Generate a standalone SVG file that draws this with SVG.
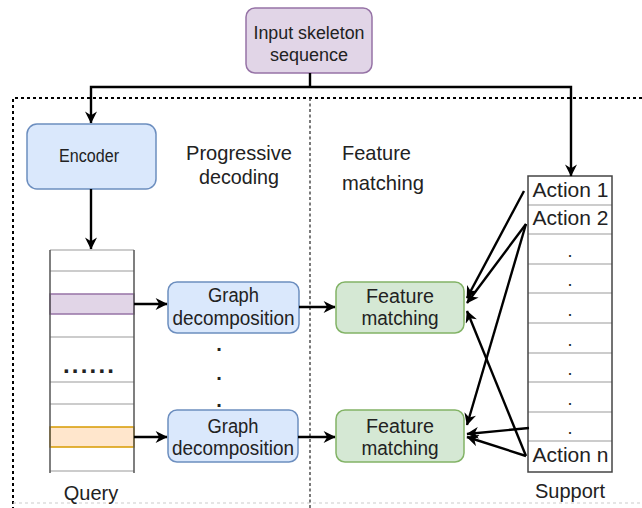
<svg xmlns="http://www.w3.org/2000/svg" width="642" height="508" viewBox="0 0 642 508">
  <style>
    text { font-family: "Liberation Sans", Arial, sans-serif; fill: #222; }
    .c { text-anchor: middle; }
    .blue { fill: #dae8fc; stroke: #6c8ebf; stroke-width: 1.5; }
    .green { fill: #d5e8d4; stroke: #82b366; stroke-width: 1.5; }
    .purple { fill: #e1d5e7; stroke: #9673a6; stroke-width: 1.5; }
    .orange { fill: #ffe6cc; stroke: #d79b00; stroke-width: 1.5; }
    .edge { fill: none; stroke: #000; stroke-width: 2.4; }
    .arrow { marker-end: url(#head); }
    .row { stroke: #999; stroke-width: 1.2; }
    .side { stroke: #555; stroke-width: 1.5; }
  </style>
  <defs>
    <marker id="head" viewBox="0 0 10 10" markerWidth="14" markerHeight="12" markerUnits="userSpaceOnUse" refX="9.5" refY="5" orient="auto">
      <path d="M0,0 L10,5 L0,10 L3,5 Z" fill="#000"/>
    </marker>
  </defs>

  <rect width="642" height="508" fill="#fff"/>

  <!-- frame and section divider -->
  <g id="frame">
    <path d="M642,98 H13 V508" fill="none" stroke="#000" stroke-width="2" stroke-dasharray="3 3"/>
    <path d="M13,503 H642" fill="none" stroke="#ccc" stroke-width="1.2" stroke-dasharray="3 3"/>
    <path d="M310,98 V508" fill="none" stroke="#333" stroke-width="1.3" stroke-dasharray="3 2.5"/>
  </g>

  <!-- section headings -->
  <g id="headings">
    <text class="c" x="239" y="160" font-size="21" textLength="106" lengthAdjust="spacingAndGlyphs">Progressive</text>
    <text class="c" x="239" y="184" font-size="21" textLength="80" lengthAdjust="spacingAndGlyphs">decoding</text>
    <text x="342" y="160" font-size="21" textLength="69" lengthAdjust="spacingAndGlyphs">Feature</text>
    <text x="342" y="190" font-size="21" textLength="82" lengthAdjust="spacingAndGlyphs">matching</text>
  </g>

  <g id="input">
    <rect class="purple" x="246" y="8" width="126" height="65" rx="9"/>
    <text class="c" x="309" y="39" font-size="18" textLength="111" lengthAdjust="spacingAndGlyphs">Input skeleton</text>
    <text class="c" x="309" y="61" font-size="18">sequence</text>
  </g>

  <g id="encoder">
    <rect class="blue" x="27" y="124" width="129" height="65" rx="10"/>
    <text class="c" x="89" y="162" font-size="18" textLength="60" lengthAdjust="spacingAndGlyphs">Encoder</text>
  </g>

  <!-- query feature column -->
  <g id="query">
    <rect class="purple" x="50" y="294" width="84" height="20"/>
    <rect class="orange" x="50" y="427" width="84" height="20"/>
    <path class="row" d="M50,250 H134 M50,271 H134 M50,337 H134 M50,382 H134 M50,404 H134 M50,471 H134"/>
    <path class="side" d="M50,250 V473 M134,250 V473"/>
    <text x="63" y="373" font-size="24" font-weight="bold" letter-spacing="2.2">......</text>
    <text class="c" x="91" y="500" font-size="20">Query</text>
  </g>

  <g id="graph1">
    <rect class="blue" x="168" y="282" width="131" height="51" rx="9"/>
    <text class="c" x="233.5" y="302" font-size="20" textLength="51" lengthAdjust="spacingAndGlyphs">Graph</text>
    <text class="c" x="233.5" y="325" font-size="20" textLength="122" lengthAdjust="spacingAndGlyphs">decomposition</text>
  </g>

  <g id="graph-dots">
    <text class="c" x="219" y="351" font-size="20" font-weight="bold">.</text>
    <text class="c" x="219" y="380" font-size="20" font-weight="bold">.</text>
    <text class="c" x="219" y="407" font-size="20" font-weight="bold">.</text>
  </g>

  <g id="graph2">
    <rect class="blue" x="168" y="410" width="130" height="52" rx="9"/>
    <text class="c" x="233" y="433" font-size="20" textLength="51" lengthAdjust="spacingAndGlyphs">Graph</text>
    <text class="c" x="233" y="455" font-size="20" textLength="122" lengthAdjust="spacingAndGlyphs">decomposition</text>
  </g>

  <g id="match1">
    <rect class="green" x="336" y="282" width="128" height="51" rx="9"/>
    <text class="c" x="400" y="303" font-size="20" textLength="68" lengthAdjust="spacingAndGlyphs">Feature</text>
    <text class="c" x="400" y="325" font-size="20" textLength="77" lengthAdjust="spacingAndGlyphs">matching</text>
  </g>

  <g id="match2">
    <rect class="green" x="336" y="410" width="128" height="52" rx="9"/>
    <text class="c" x="400" y="433" font-size="20" textLength="68" lengthAdjust="spacingAndGlyphs">Feature</text>
    <text class="c" x="400" y="455" font-size="20" textLength="77" lengthAdjust="spacingAndGlyphs">matching</text>
  </g>

  <!-- support set column -->
  <g id="support">
    <path class="row" d="M528,205 H612 M528,234 H612 M528,264 H612 M528,293 H612 M528,323 H612 M528,353 H612 M528,382 H612 M528,412 H612 M528,441 H612"/>
    <rect x="528" y="176" width="84" height="296" fill="none" stroke="#444" stroke-width="1.5"/>
    <text class="c" x="570.5" y="197" font-size="21">Action 1</text>
    <text class="c" x="570.5" y="225" font-size="21">Action 2</text>
    <text class="c" x="570" y="257" font-size="18">.</text>
    <text class="c" x="570" y="286" font-size="18">.</text>
    <text class="c" x="570" y="316" font-size="18">.</text>
    <text class="c" x="570" y="346" font-size="18">.</text>
    <text class="c" x="570" y="375" font-size="18">.</text>
    <text class="c" x="570" y="405" font-size="18">.</text>
    <text class="c" x="570" y="434" font-size="18">.</text>
    <text class="c" x="570.5" y="462" font-size="21">Action n</text>
    <text class="c" x="570" y="498" font-size="20">Support</text>
  </g>

  <g id="connectors">
    <path class="edge" d="M310,73 V87"/>
    <path class="edge arrow" d="M310,87 H91 V123"/>
    <path class="edge arrow" d="M310,87 H571 V176"/>
    <path class="edge arrow" d="M91,189 V249"/>
    <path class="edge arrow" d="M134,304 H167"/>
    <path class="edge arrow" d="M134,437 H167"/>
    <path class="edge arrow" d="M299,307 H335"/>
    <path class="edge arrow" d="M298,437 H335"/>
    <path class="edge arrow" d="M524,191 L467,298"/>
    <path class="edge arrow" d="M526,224 L467,303"/>
    <path class="edge arrow" d="M526,224 L467,425"/>
    <path class="edge arrow" d="M526,456 L467,311"/>
    <path class="edge arrow" d="M529,428 L467,434"/>
    <path class="edge arrow" d="M526,456 L467,437"/>
  </g>
</svg>
